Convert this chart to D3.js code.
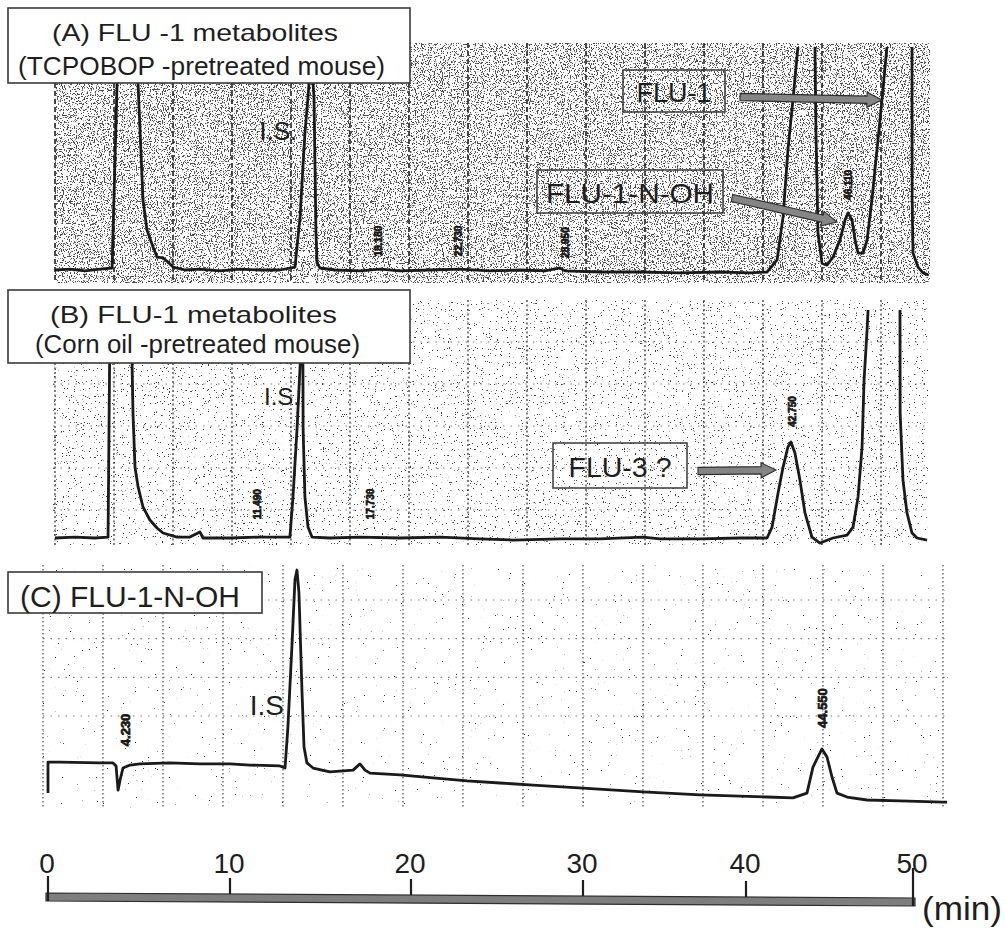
<!DOCTYPE html>
<html><head><meta charset="utf-8">
<script src="https://cdn.jsdelivr.net/npm/d3@7"></script>
<style>
body{margin:0;background:#fff}
svg{display:block}
text{font-family:"Liberation Sans",Arial,sans-serif;fill:#1e1e1e}
</style>
</head><body>
<svg id="c" width="1005" height="928"></svg>
<script>
// ---------- DATA (retention time in min, detector signal in % of full scale) ----------
const traceA = [[0.38,0],[1.21,0.4],[2.03,-0.4],[2.86,0.4],[3.52,0.9],[3.85,100],[4.34,140],[4.84,100],[4.95,83],[5.22,31.4],[5.44,17.9],[5.77,10.3],[5.99,5.8],[6.32,5.4],[6.59,3.6],[6.87,1.3],[7.53,0],[8.35,0.4],[9.45,-0.4],[10.55,0.4],[11.66,0],[12.76,0],[13.59,1.3],[13.87,23.8],[14.14,61.4],[14.31,77.6],[14.48,96.4],[14.64,77.6],[14.70,44.8],[14.75,16.6],[14.81,3.1],[14.97,0.9],[15.8,0],[17.18,-0.4],[18.29,0.4],[19.39,-0.4],[21.10,0],[22.85,0.4],[24.59,-0.4],[26.34,0],[27.79,-0.4],[28.66,0.9],[28.95,-0.4],[31.04,-0.9],[33.50,-0.9],[35.95,-1.3],[38.40,-0.9],[40.24,-1.3],[41.26,-0.9],[41.86,4.5],[42.22,23.8],[42.51,53.8],[42.81,76.2],[43.11,100],[43.59,140],[44.13,100],[44.19,61.4],[44.31,16.6],[44.55,3.1],[44.85,2.2],[45.21,5.8],[45.63,13.5],[45.93,22.4],[46.11,25.6],[46.35,22.4],[46.53,13.5],[46.71,7.6],[47.01,7.6],[47.25,13.5],[47.54,31.4],[47.84,53.8],[48.14,76.2],[48.44,100],[49.22,140],[49.94,100],[49.95,31.4],[50.00,7.6],[50.30,1.3],[50.60,-1.3],[50.90,-2.2]];
const traceB = [[0.38,0],[1.48,0.4],[2.58,0],[3.30,0.4],[3.41,100],[3.96,140],[4.56,100],[4.62,75.9],[4.67,54.8],[4.78,31.1],[4.95,22.4],[5.22,13.6],[5.60,7.9],[5.99,4.4],[6.32,2.2],[7.09,0.4],[7.80,0.4],[8.35,2.6],[8.52,0],[10.0,0],[11.66,0.4],[13.31,0.4],[13.48,18.0],[13.70,47.4],[13.87,75.0],[13.98,96.5],[14.03,75.0],[14.04,47.4],[14.14,18.0],[14.31,4.8],[14.53,0.4],[15.52,0],[17.18,0.4],[19.39,0],[21.69,0.4],[24.01,-0.4],[25.93,-0.9],[28.66,-0.4],[31.04,-0.4],[33.68,0.4],[34.72,-0.4],[37.18,-0.4],[39.63,0],[41.26,0],[41.56,4.8],[41.92,19.7],[42.22,31.1],[42.51,39.9],[42.69,42.1],[42.93,37.3],[43.23,25.4],[43.53,11.0],[43.95,0.4],[44.43,-2.2],[45.21,0],[46.05,1.3],[46.41,4.8],[46.71,18.0],[46.95,39.9],[47.07,69.3],[47.25,91.2],[47.31,100],[48.26,140],[49.22,100],[49.23,54.8],[49.40,25.4],[49.64,11.0],[49.94,2.2],[50.24,0],[50.84,-0.9]];
const traceC = [[0,3.0],[0,16.5],[0.66,16.5],[2.86,16.1],[3.57,16.1],[3.74,14.8],[3.85,4.3],[3.96,8.7],[4.12,13.9],[4.51,15.2],[5.05,15.7],[6.70,16.1],[8.35,15.7],[10.0,15.7],[11.10,15.2],[12.76,14.8],[13.04,13.9],[13.20,31.7],[13.43,68.3],[13.59,95.7],[13.70,100],[13.81,90.0],[13.98,46.5],[14.09,23.0],[14.25,16.1],[14.59,13.9],[15.52,12.2],[16.80,13.0],[17.18,15.7],[17.46,13.0],[17.74,11.7],[19.39,10.9],[21.28,9.6],[23.26,8.3],[25.17,7.4],[27.09,6.5],[30.0,5.2],[33.68,3.5],[37.18,2.2],[41.26,1.3],[42.81,0.9],[43.65,3.0],[44.01,14.3],[44.31,18.7],[44.55,22.2],[44.85,18.7],[45.15,10.0],[45.45,3.0],[46.05,1.3],[47.25,0],[49.22,-0.4],[51.80,-0.9],[52.04,-0.9]];

// integrator retention-time printouts
const rtA = [18.18, 22.73, 28.95, 46.11];
const rtB = [11.49, 17.73, 42.75];
const rtC = [4.23, 44.55];

// annotations: label and the point (time, signal) the arrow points at
const annotA = [{label:"FLU-1", t:48.14, s:76.2}, {label:"FLU-1-N-OH", t:45.45, s:21.5}];
const annotB = [{label:"FLU-3 ?", t:41.80, s:29.8}];
const isLabel = "I.S.";

const titleA = ["(A) FLU -1 metabolites", "(TCPOBOP -pretreated mouse)"];
const titleB = ["(B) FLU-1 metabolites", "(Corn oil -pretreated mouse)"];
const titleC = ["(C) FLU-1-N-OH"];

const timeTicks = [0, 10, 20, 30, 40, 50];
const timeUnit = "(min)";

// ---------- SCALES ----------
const x = d3.scaleLinear().domain([0,10,20,30,40,50]).range([48,230,411,583,746,913]);
const yA = d3.scaleLinear().domain([0,100]).range([270,47]);
const yB = d3.scaleLinear().domain([0,100]).range([538,310]);
const yC = d3.scaleLinear().domain([0,100]).range([800,570]);
const paperAB = d3.scaleLinear().domain([0,15]).range([55,940]);
const paperC  = d3.scaleLinear().domain([0,15]).range([43,943]);

const svg = d3.select("#c");
const defs = svg.append("defs");

function noiseFilter(id, seed, freq, offset, gray){
  const f = defs.append("filter").attr("id",id).attr("filterUnits","objectBoundingBox")
    .attr("x",0).attr("y",0).attr("width",1).attr("height",1)
    .attr("color-interpolation-filters","sRGB");
  f.append("feTurbulence").attr("type","fractalNoise").attr("baseFrequency",freq)
    .attr("numOctaves",2).attr("seed",seed).attr("result","n");
  f.append("feColorMatrix").attr("in","n").attr("type","matrix")
    .attr("values",`0 0 0 0 ${gray} 0 0 0 0 ${gray} 0 0 0 0 ${gray} -22 0 0 0 ${offset}`);
}
noiseFilter("nA", 3, 0.85, 9.5, 0.3);
noiseFilter("nB", 5, 0.85, 6.6, 0.25);
noiseFilter("nC", 9, 0.85, 4.9, 0.2);

function clip(id, x0, y0, w, h){
  defs.append("clipPath").attr("id",id).append("rect").attr("x",x0).attr("y",y0).attr("width",w).attr("height",h);
}
clip("cA", 40, yA(100), 920, 240);
clip("cB", 40, yB(100), 920, 240);
clip("cC", 30, 560, 930, 250);

function signalAt(trace, t){
  for(let i=1;i<trace.length;i++){
    if(trace[i][0] >= t){
      const [t0,s0]=trace[i-1],[t1,s1]=trace[i];
      return t1===t0 ? s1 : s0 + (s1-s0)*(t-t0)/(t1-t0);
    }
  }
  return trace[trace.length-1][1];
}

function panel(cfg){
  const g = svg.append("g");
  // scanned paper speckle
  g.append("rect").attr("x",cfg.nx).attr("y",cfg.ny).attr("width",cfg.nw).attr("height",cfg.nh)
    .attr("fill","#000").attr("filter",`url(#${cfg.filter})`);
  // chart paper horizontal rows
  if(cfg.rows){
    g.selectAll(".row").data(d3.range(cfg.rows.n)).join("line")
      .attr("x1",cfg.nx).attr("x2",cfg.nx+cfg.nw)
      .attr("y1",d=>cfg.rows.scale(d)).attr("y2",d=>cfg.rows.scale(d))
      .attr("stroke","#808080").attr("stroke-width",1.1).attr("stroke-dasharray","1.5,6");
  }
  // chart paper vertical divisions
  g.selectAll(".vg").data(d3.range(cfg.gridN)).join("line")
    .attr("x1",d=>cfg.paper(d)).attr("x2",d=>cfg.paper(d))
    .attr("y1",cfg.ny).attr("y2",cfg.ny+cfg.nh)
    .attr("stroke",cfg.gridColor).attr("stroke-width",cfg.gridW).attr("stroke-dasharray",cfg.gridDash);
  // trace
  const line = d3.line().x(d=>x(d[0])).y(d=>cfg.y(d[1]));
  g.append("path").datum(cfg.trace).attr("d",line).attr("clip-path",`url(#${cfg.clip})`)
    .attr("fill","none").attr("stroke","#1a1a1a").attr("stroke-width",2.8)
    .attr("stroke-linejoin","round");
  // retention time printouts
  cfg.rt.forEach(t=>{
    const px = x(t), py = cfg.y(signalAt(cfg.trace,t)) - cfg.rtOff;
    g.append("text").attr("transform",`translate(${px+cfg.rtSize*0.38},${py}) rotate(-90)`)
      .attr("font-size",cfg.rtSize).attr("font-weight","bold")
      .style("fill","#151515").style("stroke","#151515").style("stroke-width",0.7)
      .text(t.toFixed(3));
  });
  return g;
}

function titleBox(g, bx, by, bw, bh, lines, specs){
  g.append("rect").attr("x",bx).attr("y",by).attr("width",bw).attr("height",bh)
    .attr("fill","#fff").attr("stroke","#3a3a3a").attr("stroke-width",1.6);
  lines.forEach((l,i)=>{
    const s = specs[i];
    g.append("text").attr("x",s.x).attr("y",s.y).attr("font-size",s.size)
      .attr("textLength",s.len).attr("lengthAdjust","spacingAndGlyphs").text(l);
  });
}

function arrow(g, x1, y1, x2, y2){
  const dx=x2-x1, dy=y2-y1, L=Math.hypot(dx,dy), a=Math.atan2(dy,dx)*180/Math.PI;
  const sw=3.6, hl=15, hw=7.5;
  const pts=[[0,-sw],[L-hl,-sw],[L-hl,-hw],[L,0],[L-hl,hw],[L-hl,sw],[0,sw]];
  g.append("polygon").attr("points",pts.map(p=>p.join(",")).join(" "))
    .attr("transform",`translate(${x1},${y1}) rotate(${a})`)
    .attr("fill","#858585").attr("stroke","#2c2c2c").attr("stroke-width",1.1);
}

function annBox(g, bx, by, bw, bh, label, size, len, base){
  g.append("rect").attr("x",bx).attr("y",by).attr("width",bw).attr("height",bh)
    .attr("fill","none").attr("stroke","#3a3a3a").attr("stroke-width",1.5);
  g.append("text").attr("x",bx+bw/2).attr("y",base).attr("text-anchor","middle")
    .attr("font-size",size).attr("textLength",len).attr("lengthAdjust","spacingAndGlyphs").text(label);
}

// ---------- PANEL A ----------
const gA = panel({trace:traceA, y:yA, clip:"cA", filter:"nA", nx:55, ny:43, nw:875, nh:240,
  paper:paperAB, gridN:15, gridColor:"#2e2e2e", gridW:1.7, gridDash:"5,3", rt:rtA, rtOff:13, rtSize:10});
gA.append("text").attr("x",297).attr("y",140).attr("text-anchor","end").attr("font-size",25).text(isLabel);
titleBox(gA, 8, 8, 402, 75, titleA, [{x:52,y:41,size:24,len:286},{x:18,y:75,size:26,len:367}]);
// FLU-1
annBox(gA, 623, 70, 102, 42, annotA[0].label, 27, 75, 102);
arrow(gA, 740, 97, x(annotA[0].t), yA(annotA[0].s));
// FLU-1-N-OH
annBox(gA, 537, 170, 186, 43, annotA[1].label, 28, 168, 203);
arrow(gA, 732, 198, x(annotA[1].t), yA(annotA[1].s));

// ---------- PANEL B ----------
const gB = panel({trace:traceB, y:yB, clip:"cB", filter:"nB", nx:53, ny:300, nw:875, nh:245,
  paper:paperAB, gridN:15, gridColor:"#3c3c3c", gridW:1.3, gridDash:"2,2.5", rt:rtB, rtOff:18, rtSize:10,
  rows:{n:5, scale:d3.scaleLinear().domain([0,4]).range([342,510])}});
gB.append("text").attr("x",300).attr("y",405).attr("text-anchor","end").attr("font-size",24).text(isLabel);
titleBox(gB, 8, 290, 402, 73, titleB, [{x:50,y:323,size:24,len:287},{x:35,y:353,size:26,len:325}]);
annBox(gB, 553, 443, 134, 45, annotB[0].label, 28, 103, 477);
arrow(gB, 698, 471, x(annotB[0].t), yB(annotB[0].s));

// ---------- PANEL C ----------
const gC = panel({trace:traceC, y:yC, clip:"cC", filter:"nC", nx:43, ny:565, nw:905, nh:243,
  paper:paperC, gridN:16, gridColor:"#4a4a4a", gridW:1.2, gridDash:"1.5,2.5", rt:rtC, rtOff:21, rtSize:13,
  rows:{n:4, scale:d3.scaleLinear().domain([0,3]).range([600,716])}});
gC.append("text").attr("x",284).attr("y",715).attr("text-anchor","end").attr("font-size",28).text("I.S");
titleBox(gC, 8, 572, 254, 41, titleC, [{x:20,y:607,size:29,len:220}]);

// ---------- TIME SCALE BAR ----------
const gX = svg.append("g");
const barTop = d3.scaleLinear().domain([0,50]).range([893,898]);
const bx0 = x(0)-2, bx1 = x(50)+2;
gX.append("polygon")
  .attr("points",[[bx0,barTop(0)],[bx1,barTop(50)],[bx1,barTop(50)+8],[bx0,barTop(0)+8]].map(p=>p.join(",")).join(" "))
  .attr("fill","#7e7e7e").attr("stroke","#2e2e2e").attr("stroke-width",1.2);
gX.selectAll(".tk").data(timeTicks).join("line")
  .attr("x1",d=>x(d)).attr("x2",d=>x(d))
  .attr("y1",d=>barTop(d) - (d===50?30:(d===0?17:16))).attr("y2",d=>barTop(d)+ (d===0||d===50?8:0))
  .attr("stroke","#1e1e1e").attr("stroke-width",2.2);
gX.selectAll(".tl").data(timeTicks).join("text")
  .attr("x",d=>x(d)-1).attr("y",873).attr("text-anchor","middle").attr("font-size",28)
  .text(d=>d);
gX.append("text").attr("x",922).attr("y",920).attr("font-size",34).attr("textLength",80)
  .attr("lengthAdjust","spacingAndGlyphs").text(timeUnit);
</script>
</body></html>
